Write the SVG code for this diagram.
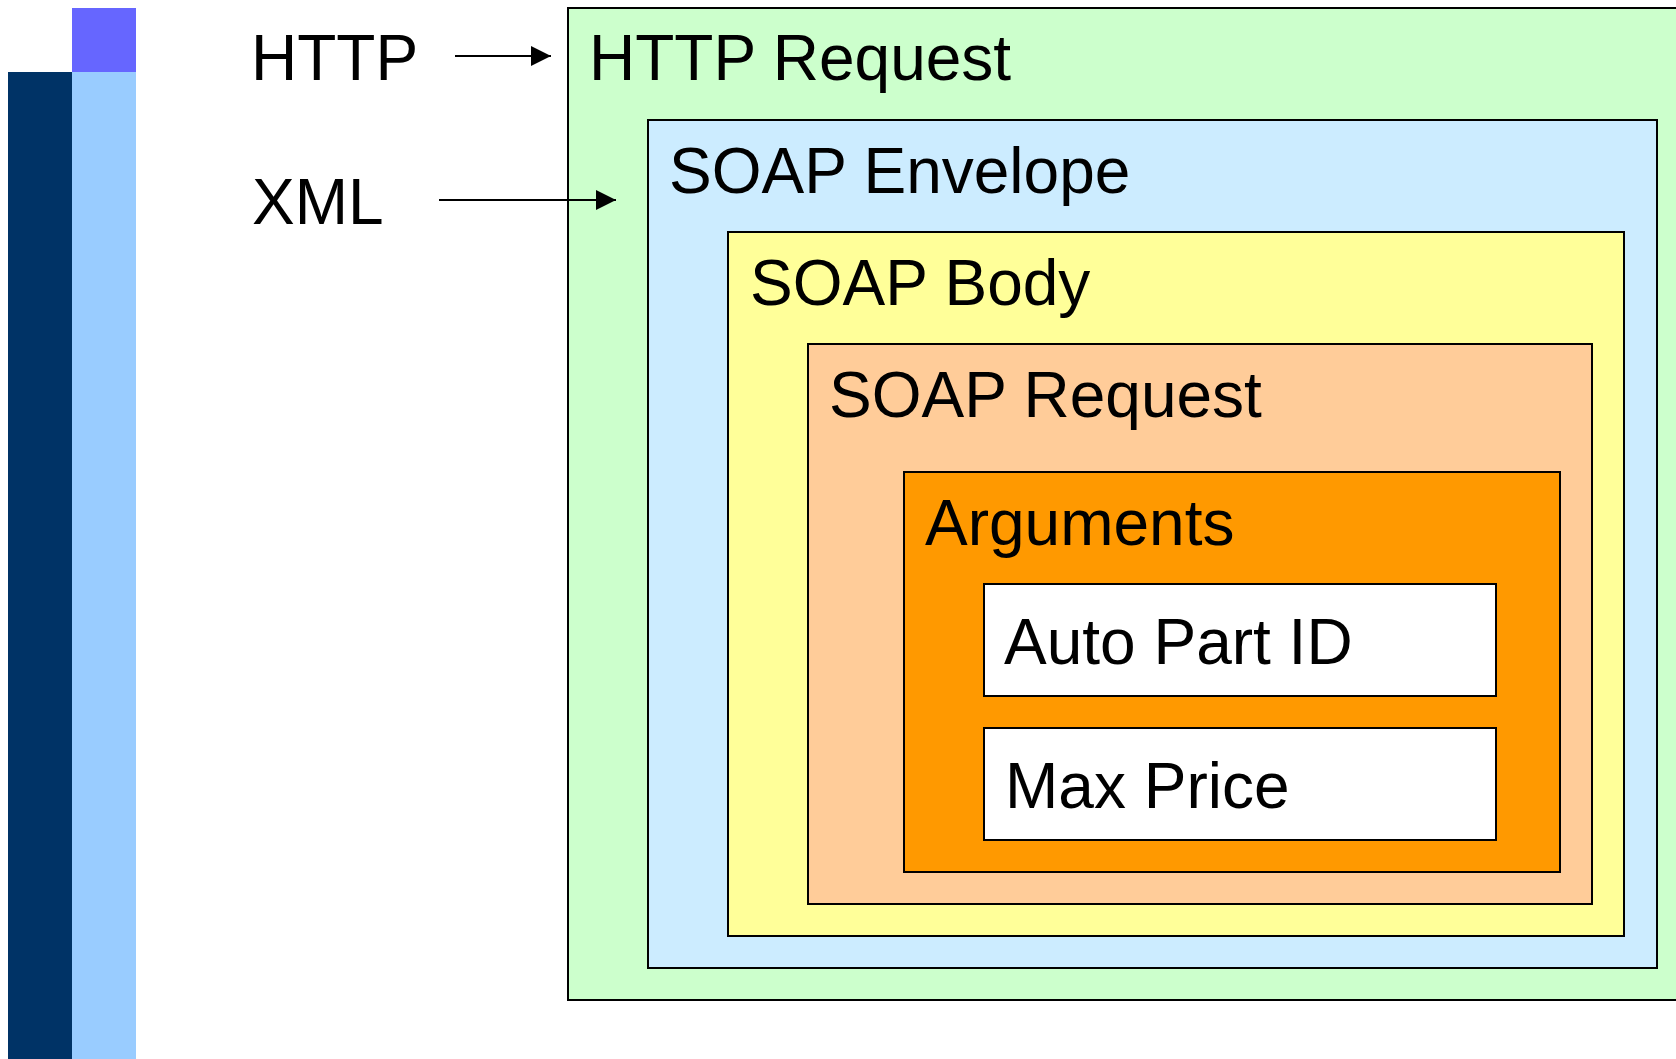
<svg xmlns="http://www.w3.org/2000/svg" width="1676" height="1059" viewBox="0 0 1676 1059">
<defs>
<style>
.box{stroke:#000;stroke-width:2}
.lbl{font-family:"Liberation Sans",Arial,sans-serif;font-size:64px;fill:#000}
.conn{stroke:#000;stroke-width:2;fill:none}
</style>
<marker id="arr" markerUnits="userSpaceOnUse" markerWidth="20" markerHeight="20" viewBox="0 0 20 20" refX="20" refY="10" orient="auto">
<path d="M0,0 L20,10 L0,20 z" fill="#000"/>
</marker>
</defs>
<rect width="1676" height="1059" fill="#fff"/>
<g id="sidebar">
<rect x="8" y="72" width="64" height="987" fill="#003366"/>
<rect x="72" y="72" width="64" height="987" fill="#99CCFF"/>
<rect x="72" y="8" width="64" height="64" fill="#6666FF"/>
</g>
<g id="label-http"><text class="lbl" x="251" y="80">HTTP</text></g>
<g id="label-xml"><text class="lbl" x="252" y="224">XML</text></g>
<g id="http-request">
<rect class="box" x="568" y="8" width="1200" height="992" fill="#CCFFCC"/>
<text class="lbl" x="589" y="80">HTTP Request</text>
</g>
<g id="soap-envelope">
<rect class="box" x="648" y="120" width="1009" height="848" fill="#CCECFF"/>
<text class="lbl" x="669" y="193">SOAP Envelope</text>
</g>
<g id="soap-body">
<rect class="box" x="728" y="232" width="896" height="704" fill="#FFFF99"/>
<text class="lbl" x="750" y="305">SOAP Body</text>
</g>
<g id="soap-request">
<rect class="box" x="808" y="344" width="784" height="560" fill="#FFCC99"/>
<text class="lbl" x="829" y="417">SOAP Request</text>
</g>
<g id="arguments">
<rect class="box" x="904" y="472" width="656" height="400" fill="#FF9900"/>
<text class="lbl" x="925" y="545">Arguments</text>
</g>
<g id="auto-part-id">
<rect class="box" x="984" y="584" width="512" height="112" fill="#FFFFFF"/>
<text class="lbl" x="1004" y="664">Auto Part ID</text>
</g>
<g id="max-price">
<rect class="box" x="984" y="728" width="512" height="112" fill="#FFFFFF"/>
<text class="lbl" x="1005" y="808">Max Price</text>
</g>
<g id="connectors">
<line class="conn" x1="455" y1="56" x2="551" y2="56" marker-end="url(#arr)"/>
<line class="conn" x1="439" y1="200" x2="616" y2="200" marker-end="url(#arr)"/>
</g>
</svg>
